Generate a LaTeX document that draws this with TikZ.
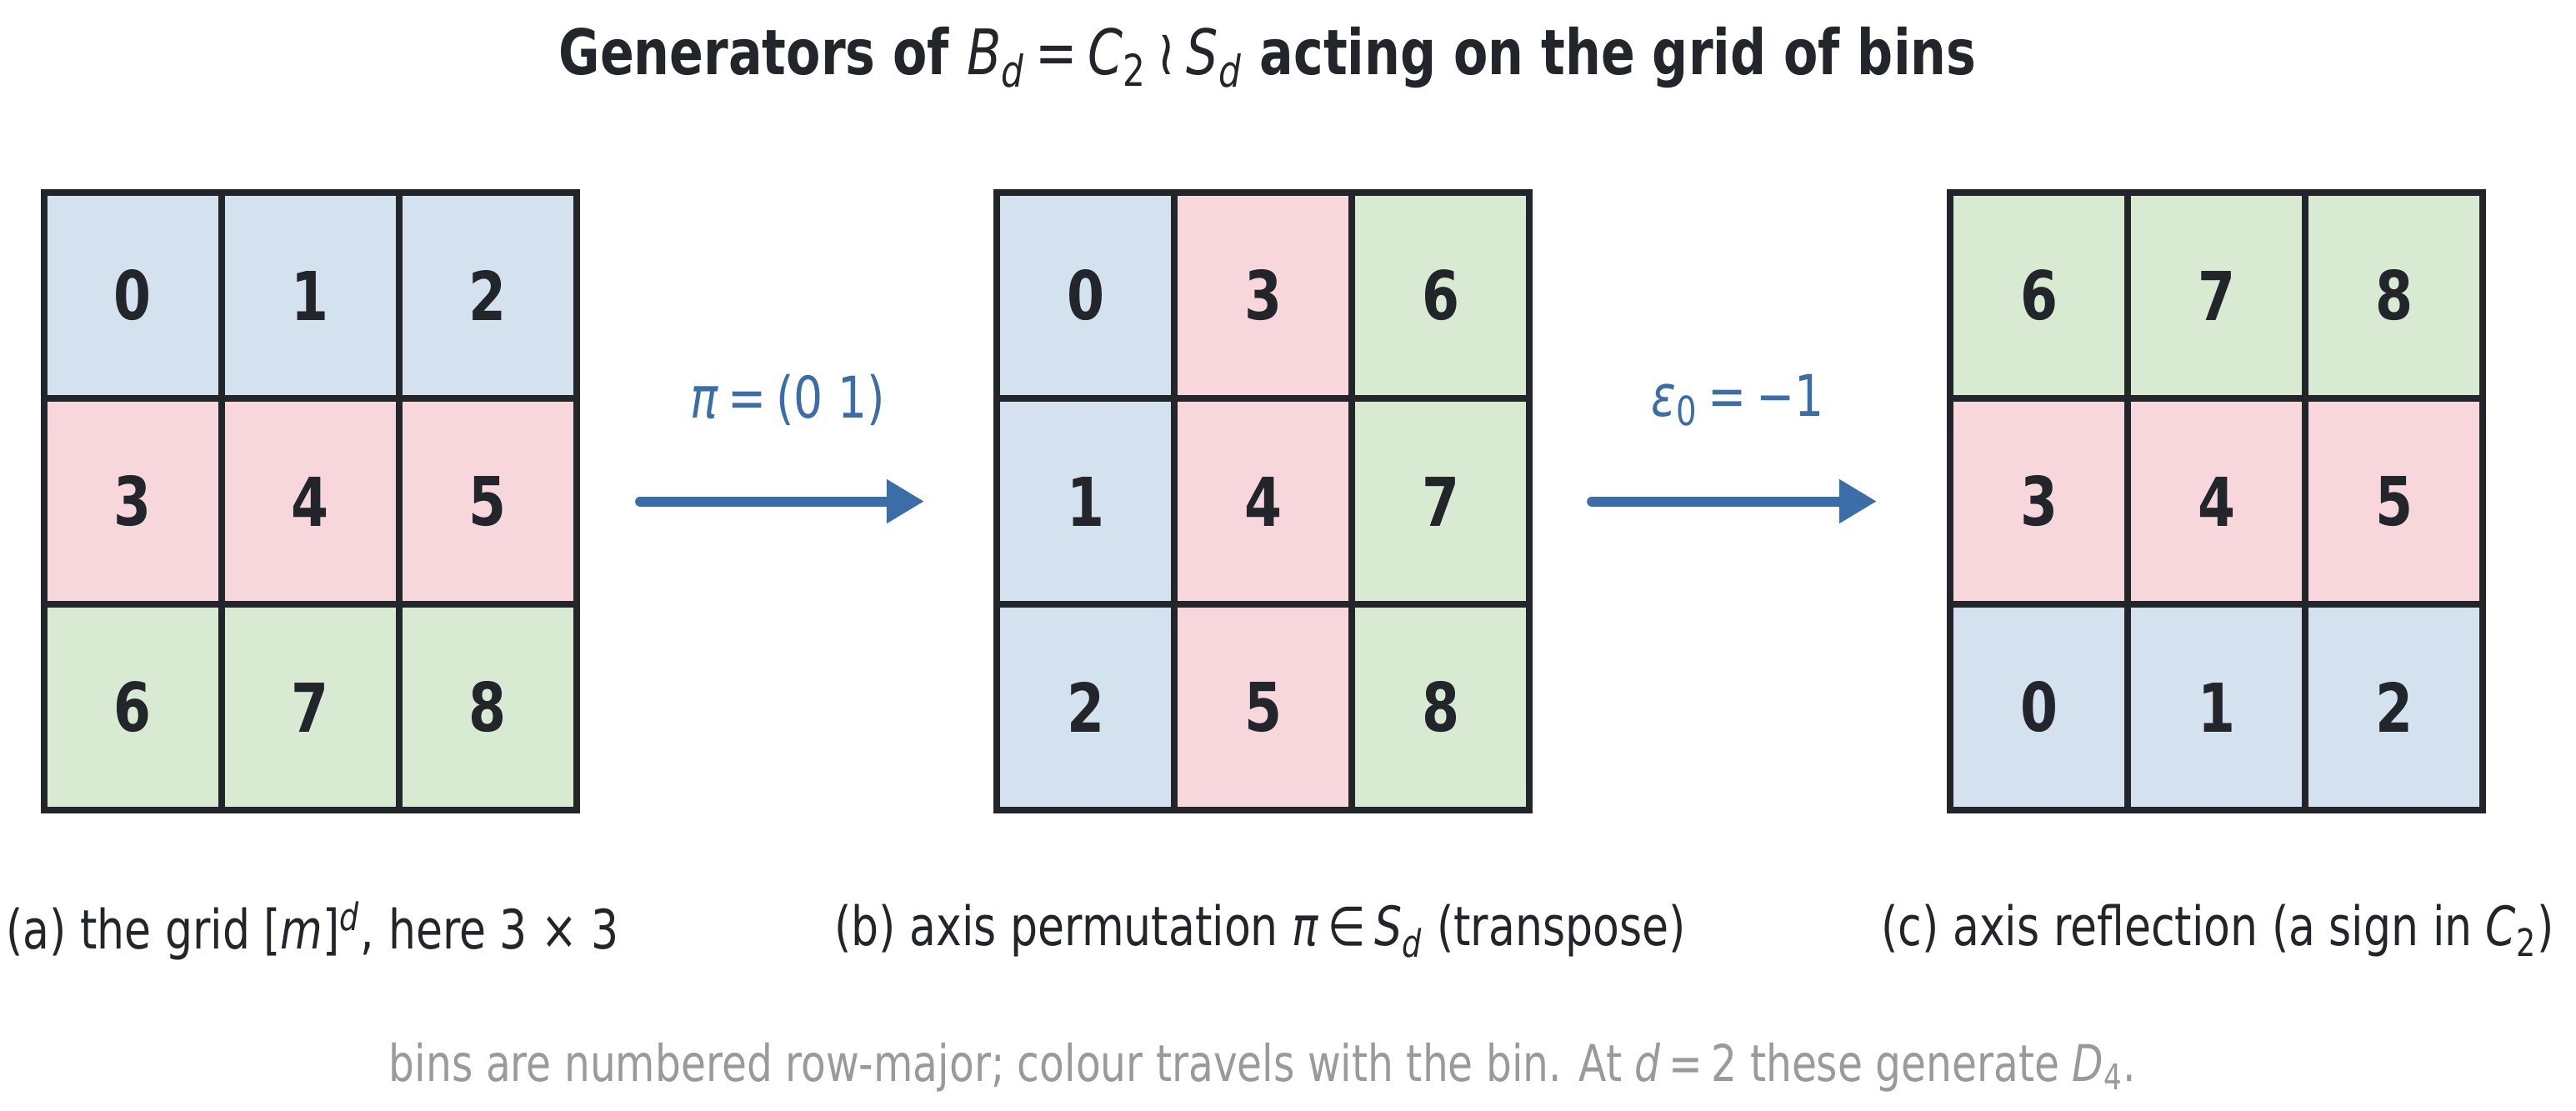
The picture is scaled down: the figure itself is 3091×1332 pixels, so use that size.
\documentclass[tikz,border=0pt]{standalone}
\usepackage{fontspec}
\setmainfont{DejaVu Sans}[FakeStretch=0.8]
\usetikzlibrary{arrows.meta}
\definecolor{cblue}{HTML}{D4E2F0}
\definecolor{cpink}{HTML}{F8D7DC}
\definecolor{cgreen}{HTML}{D9EAD3}
\definecolor{cline}{HTML}{22252A}
\definecolor{carrow}{HTML}{3B6EA8}
\definecolor{cgrey}{HTML}{9A9A9A}
\newcommand{\mv}[1]{\textit{#1}}
\begin{document}
\begin{tikzpicture}[x=0.01cm,y=-0.01cm,
 cell/.style={draw=cline,line width=0.075cm,minimum width=2.13cm,minimum height=2.47cm,inner sep=0pt,outer sep=0pt,font=\fontsize{23}{27}\selectfont\bfseries,text=cline},
 arr/.style={carrow,line width=0.12cm,line cap=round,-{Triangle[length=0.45cm,width=0.5cm]}},
 lab/.style={text=carrow,font=\fontsize{19.6}{23}\selectfont,inner sep=0pt},
 capt/.style={font=\fontsize{18.5}{22}\selectfont,text=cline,inner sep=0pt},
 foot/.style={font=\fontsize{17.3}{21}\selectfont,text=cgrey,inner sep=0pt},
 ttl/.style={font=\fontsize{21.4}{25}\selectfont,text=cline,inner sep=0pt}]
\useasboundingbox[fill=white] (0,0) rectangle (3091,1332);

\node[ttl] (title) at (1521,69) {{\bfseries Generators of }\mv{B}\textsubscript{\mv{d}}\,=\,\mv{C}\textsubscript{2}\,≀\,\mv{S}\textsubscript{\mv{d}}{\bfseries\ acting on the grid of bins}};

\foreach \r in {0,1,2} {
 \foreach \c in {0,1,2} {
  \pgfmathtruncatemacro\na{3*\r+\c}
  \pgfmathtruncatemacro\nb{3*\c+\r}
  \pgfmathtruncatemacro\nc{3*(2-\r)+\c}
  \ifcase\r \def\ca{cblue}\or \def\ca{cpink}\or \def\ca{cgreen}\fi
  \ifcase\c \def\cb{cblue}\or \def\cb{cpink}\or \def\cb{cgreen}\fi
  \ifcase\r \def\cc{cgreen}\or \def\cc{cpink}\or \def\cc{cblue}\fi
  \node[cell,fill=\ca] (A-\r-\c) at ({53+(\c+0.5)*213},{231+(\r+0.5)*247}) {\na};
  \node[cell,fill=\cb] (B-\r-\c) at ({1196+(\c+0.5)*213},{231+(\r+0.5)*247}) {\nb};
  \node[cell,fill=\cc] (C-\r-\c) at ({2340+(\c+0.5)*213},{231+(\r+0.5)*247}) {\nc};
 }
}

\draw[arr] ([xshift=0.76cm]A-1-2.east) -- ([xshift=-0.87cm]B-1-0.west);
\draw[arr] ([xshift=0.75cm]B-1-2.east) -- ([xshift=-0.88cm]C-1-0.west);

\node[lab] (l1) at (945,480) {\mv{π}\,=\,(0\ 1)};
\node[lab] (l2) at (2085,480) {\mv{ε}\textsubscript{0}\,=\,−1};

\node[capt] (ca) at (375,1117) {(a) the grid [\mv{m}]\textsuperscript{\mv{d}}, here 3 × 3};
\node[capt] (cb) at (1512,1117) {(b) axis permutation \mv{π}\,∈\,\mv{S}\textsubscript{\mv{d}} (transpose)};
\node[capt] (cc) at (2661,1117) {(c) axis reflection (a sign in \mv{C}\textsubscript{2})};

\node[foot] (ft) at (1515,1281) {bins are numbered row-major; colour travels with the bin. At \mv{d}\,=\,2 these generate \mv{D}\textsubscript{4}.};
\end{tikzpicture}
\end{document}
